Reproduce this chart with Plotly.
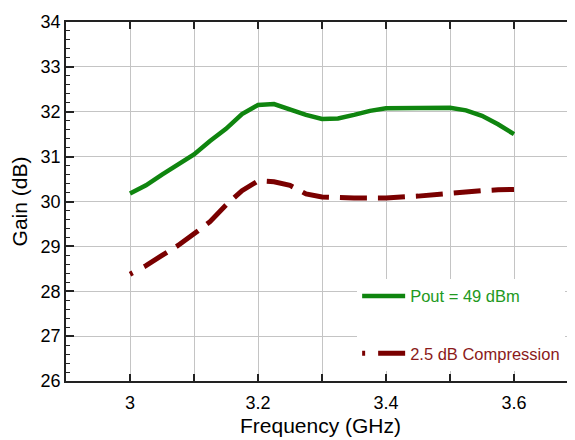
import plotly.graph_objects as go

freq = [3.00, 3.025, 3.05, 3.075, 3.10, 3.125, 3.15, 3.175, 3.20, 3.225, 3.25, 3.275,
        3.30, 3.325, 3.35, 3.375, 3.40, 3.45, 3.50, 3.525, 3.55, 3.575, 3.60]
gain_pout = [30.18, 30.36, 30.60, 30.82, 31.05, 31.35, 31.62, 31.95, 32.15, 32.17, 32.05, 31.93,
             31.84, 31.85, 31.93, 32.02, 32.08, 32.09, 32.09, 32.03, 31.91, 31.72, 31.50]
gain_comp = [28.38, 28.57, 28.80, 29.02, 29.28, 29.55, 29.92, 30.24, 30.46, 30.44, 30.36, 30.17,
             30.10, 30.08, 30.08, 30.08, 30.08, 30.12, 30.19, 30.22, 30.24, 30.26, 30.27]

name_pout = "Pout = 49 dBm"
name_comp = "2.5 dB Compression"

green = "#0f850f"
maroon = "#7a0000"
FONT = "Liberation Sans, Arial"

dash_pattern = "3px,13px," + ",".join(["27px,11px"] * 20)

fig = go.Figure()
fig.add_trace(go.Scatter(
    x=freq, y=gain_pout, mode="lines",
    name="<span style='color:#229922'>" + name_pout + "</span>",
    line=dict(color=green, width=4.5), legendgroup="a"))
fig.add_trace(go.Scatter(
    x=freq, y=gain_comp, mode="lines",
    name="<span style='color:#8b1a1a'>" + name_comp + "</span>",
    line=dict(color=maroon, width=5, dash=dash_pattern), legendgroup="b"))

axis_common = dict(
    showline=True, linecolor="#222", linewidth=1.5, mirror="ticks",
    showgrid=True, gridcolor="#c4c4c4", gridwidth=1.2,
    ticks="inside", tickcolor="#222", tickwidth=1.5,
    tickfont=dict(family=FONT, size=18, color="#000"),
    zeroline=False, automargin=False,
)

fig.update_xaxes(
    **axis_common, range=[2.9, 3.6953], tick0=3.0, dtick=0.2, ticklen=7,
    ticklabelstandoff=5,
    minor=dict(dtick=0.1, tick0=3.0, ticks="inside", ticklen=7, tickcolor="#222", tickwidth=1.5,
               showgrid=True, gridcolor="#c4c4c4", gridwidth=1.2),
    title=dict(text="Frequency (GHz)", font=dict(family=FONT, size=21, color="#000"), standoff=6),
)
fig.update_yaxes(
    **axis_common, range=[26, 34], tick0=26, dtick=1, ticklen=8,
    minor=dict(dtick=0.2, tick0=26, ticks="inside", ticklen=4, tickcolor="#222", tickwidth=1.2,
               showgrid=False),
    title=dict(text="Gain (dB)", font=dict(family=FONT, size=21, color="#000"), standoff=8),
)

fig.update_layout(
    width=567, height=432,
    margin=dict(l=58, r=0, t=14, b=59),
    paper_bgcolor="white", plot_bgcolor="white",
    showlegend=True,
    legend=dict(x=0.572, y=0.285, xanchor="left", yanchor="top",
                bgcolor="white", borderwidth=0,
                font=dict(family=FONT, size=16.5),
                tracegroupgap=33, traceorder="grouped", itemwidth=43),
)

fig.write_html("out.html")
